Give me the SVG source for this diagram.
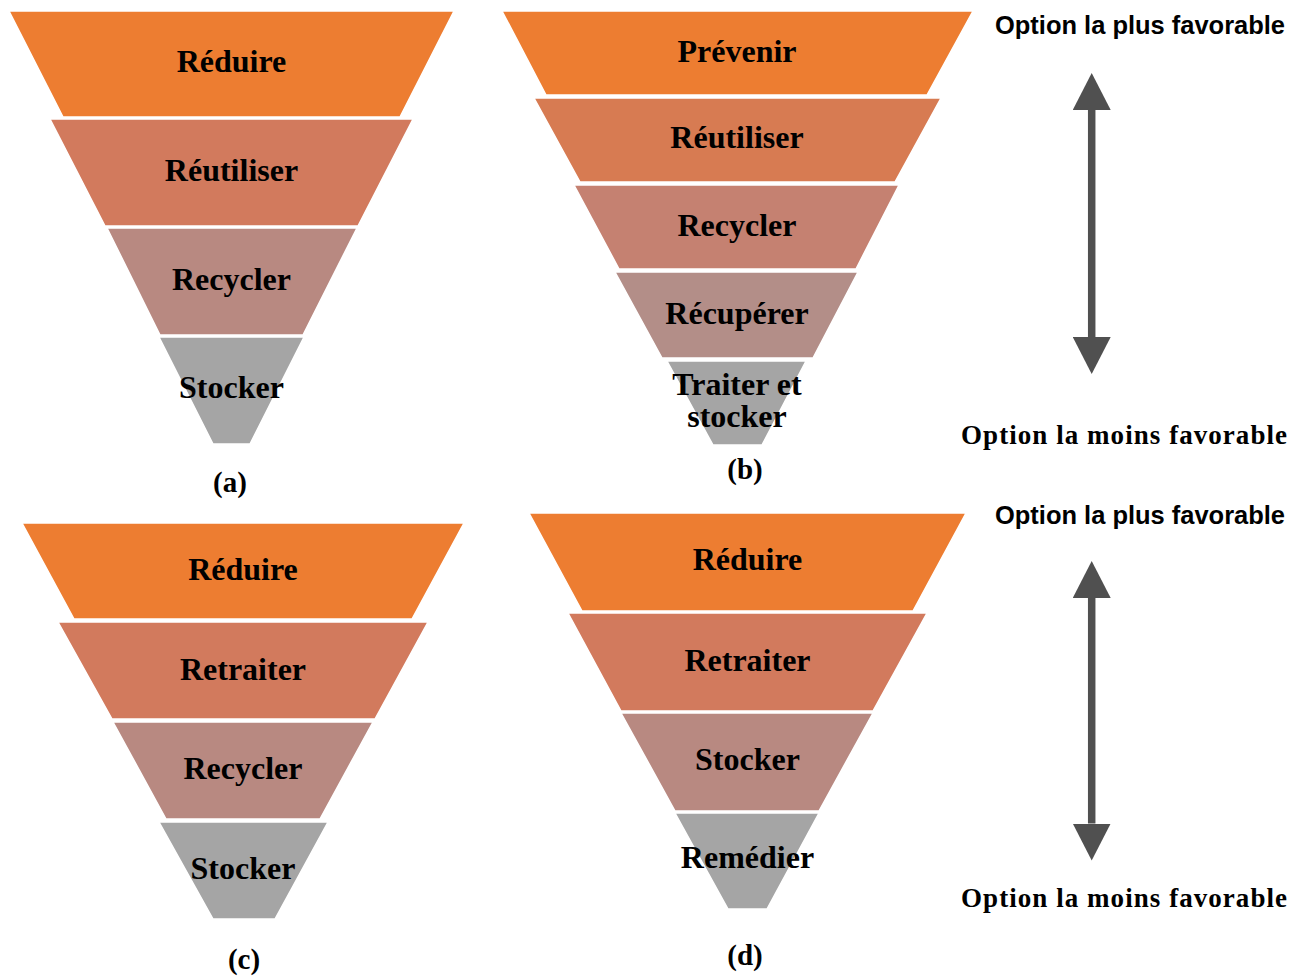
<svg xmlns="http://www.w3.org/2000/svg" width="1303" height="978" viewBox="0 0 1303 978">
<defs>
<style>
.seg{stroke:#ffffff;stroke-width:1.5;stroke-linejoin:miter}
.c1{fill:#ED7D31}
.c2{fill:#D27A5D}
.c3{fill:#B88981}
.c4{fill:#A5A5A5}
.b2{fill:#D77B52}
.b3{fill:#C58171}
.b4{fill:#B38E88}
.lbl{font-family:"Liberation Serif","Times New Roman",serif;font-weight:bold;font-size:32px;fill:#000;text-anchor:middle}
.cap{font-family:"Liberation Serif","Times New Roman",serif;font-weight:bold;font-size:29px;fill:#000;text-anchor:middle}
.best{font-family:"Liberation Sans",Arial,sans-serif;font-weight:bold;font-size:25px;fill:#000}
.worst{font-family:"Liberation Serif","Times New Roman",serif;font-weight:bold;font-size:27px;fill:#000}
.shaft{stroke:#505050;stroke-width:7.5;fill:none}
</style>
<marker id="head" viewBox="0 0 37 38" refX="0" refY="19" markerWidth="37" markerHeight="38" markerUnits="userSpaceOnUse" orient="auto-start-reverse">
<path d="M0,0 L37,19 L0,38 Z" fill="#505050"/>
</marker>
</defs>
<rect width="1303" height="978" fill="#ffffff"/>

<g id="funnel-a">
<g id="a-reduire"><polygon class="seg c1" points="9,11 454,11 400,117 63,117"/><text class="lbl" x="231.5" y="72">Réduire</text></g>
<g id="a-reutiliser"><polygon class="seg c2" points="50,119 413,119 358,226 105,226"/><text class="lbl" x="231.5" y="181">Réutiliser</text></g>
<g id="a-recycler"><polygon class="seg c3" points="107,228 357,228 303,335 160,335"/><text class="lbl" x="231.5" y="290">Recycler</text></g>
<g id="a-stocker"><polygon class="seg c4" points="159,337 304,337 250,444 213,444"/><text class="lbl" x="231.5" y="398">Stocker</text></g>
<text class="cap" x="230" y="492">(a)</text>
</g>

<g id="funnel-b">
<g id="b-prevenir"><polygon class="seg c1" points="502,11 973,11 927,95 546,95"/><text class="lbl" x="737" y="62">Prévenir</text></g>
<g id="b-reutiliser"><polygon class="seg b2" points="534,98 941,98 895,182 580,182"/><text class="lbl" x="737" y="148">Réutiliser</text></g>
<g id="b-recycler"><polygon class="seg b3" points="574,185 899,185 856,269 619,269"/><text class="lbl" x="737" y="236">Recycler</text></g>
<g id="b-recuperer"><polygon class="seg b4" points="615,272 858,272 813,358 662,358"/><text class="lbl" x="737" y="324">Récupérer</text></g>
<g id="b-traiter"><polygon class="seg c4" points="667,361 806,361 762,445 713,445"/><text class="lbl" x="737" y="395"><tspan x="737" y="395">Traiter et</tspan><tspan x="737" y="427">stocker</tspan></text></g>
<text class="cap" x="745" y="479">(b)</text>
</g>

<g id="funnel-c">
<g id="c-reduire"><polygon class="seg c1" points="22,523 464,523 412,619 74,619"/><text class="lbl" x="243" y="580">Réduire</text></g>
<g id="c-retraiter"><polygon class="seg c2" points="58,622 428,622 375,719 112,719"/><text class="lbl" x="243" y="680">Retraiter</text></g>
<g id="c-recycler"><polygon class="seg c3" points="113,722 373,722 320,819 166,819"/><text class="lbl" x="243" y="779">Recycler</text></g>
<g id="c-stocker"><polygon class="seg c4" points="159,822 328,822 275,919 213,919"/><text class="lbl" x="243" y="879">Stocker</text></g>
<text class="cap" x="244" y="969">(c)</text>
</g>

<g id="funnel-d">
<g id="d-reduire"><polygon class="seg c1" points="529,513 966,513 913,611 582,611"/><text class="lbl" x="747.5" y="570">Réduire</text></g>
<g id="d-retraiter"><polygon class="seg c2" points="568,613 927,613 873,711 621,711"/><text class="lbl" x="747.5" y="671">Retraiter</text></g>
<g id="d-stocker"><polygon class="seg c3" points="621,713 873,713 819,811 675,811"/><text class="lbl" x="747.5" y="770">Stocker</text></g>
<g id="d-remedier"><polygon class="seg c4" points="675,813 819,813 767,909 728,909"/><text class="lbl" x="747.5" y="868">Remédier</text></g>
<text class="cap" x="745" y="965">(d)</text>
</g>

<g id="legend-top">
<text class="best" x="995" y="34" textLength="290" lengthAdjust="spacingAndGlyphs">Option la plus favorable</text>
<text class="worst" x="961" y="444" textLength="326" lengthAdjust="spacing">Option la moins favorable</text>
</g>
<g id="legend-bottom">
<text class="best" x="995" y="524" textLength="290" lengthAdjust="spacingAndGlyphs">Option la plus favorable</text>
<text class="worst" x="961" y="907" textLength="326" lengthAdjust="spacing">Option la moins favorable</text>
</g>

<g id="connectors">
<line class="shaft" x1="1091.7" y1="110" x2="1091.7" y2="337" marker-start="url(#head)" marker-end="url(#head)"/>
<line class="shaft" x1="1091.7" y1="598" x2="1091.7" y2="823.5" marker-start="url(#head)" marker-end="url(#head)"/>
</g>
</svg>
